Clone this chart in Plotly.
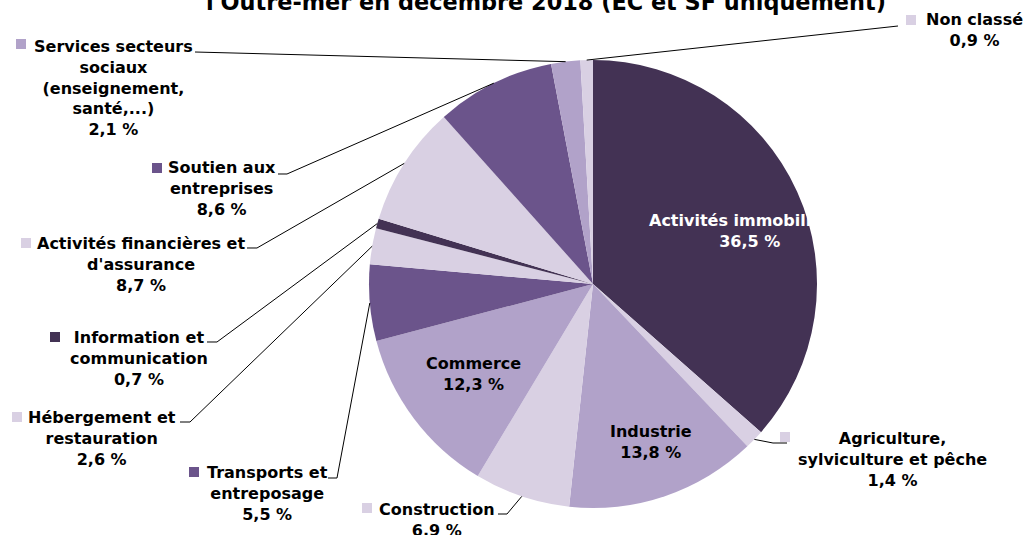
import math
import plotly.graph_objects as go

# ---------------- data ----------------
categories = [
    "Activités immobilières",
    "Agriculture,<br>sylviculture et pêche",
    "Industrie",
    "Construction",
    "Commerce",
    "Transports et<br>entreposage",
    "Hébergement et<br>restauration",
    "Information et<br>communication",
    "Activités financières et<br>d'assurance",
    "Soutien aux<br>entreprises",
    "Services secteurs<br>sociaux<br>(enseignement,<br>santé,...)",
    "Non classé",
]
values = [36.5, 1.4, 13.8, 6.9, 12.3, 5.5, 2.6, 0.7, 8.7, 8.6, 2.1, 0.9]
title_text = "l'Outre-mer en décembre 2018 (EC et SF uniquement)"

# ---------------- style ----------------
DARK = "#433254"
MID = "#6b548b"
LIGHT = "#b1a2c9"
PALE = "#d9d0e3"
colors = [DARK, PALE, LIGHT, PALE, LIGHT, MID, PALE, DARK, PALE, MID, LIGHT, PALE]

W, H = 1023, 535
CX, CY, R = 593, 284, 224
FONT = "DejaVu Sans"
FS = 16
LS = 20.8  # line spacing used to centre multi-line blocks

# label layout (pixel positions): index -> settings
inside = {
    0: dict(x=749, y=221, color="white"),
    2: dict(x=651, y=432, color="black"),
    4: dict(x=473, y=364, color="black"),
}
outside = {
    1: dict(x=892, y=439, key=(785, 437), knee=(773, 443), end=(787, 443)),
    3: dict(x=437, y=510, key=(367, 508), knee=(507, 514), end=(498, 514)),
    5: dict(x=267, y=473, key=(194, 472), knee=(337, 478), end=(328, 478)),
    6: dict(x=102, y=418, key=(17, 417), knee=(190, 422), end=(180, 422)),
    7: dict(x=139, y=338, key=(55, 337), knee=(217, 342), end=(207, 342)),
    8: dict(x=141, y=244, key=(26, 243), knee=(257, 248), end=(247, 248)),
    9: dict(x=222, y=168, key=(157, 168), knee=(287, 174), end=(278, 174)),
    10: dict(x=113, y=46, key=(21, 44), knee=None, end=(195, 52)),
    11: dict(x=974, y=20, key=(911, 20), knee=None, end=(898, 26)),
}


def px(x, y):
    return x / W, 1 - y / H


def fmt(v):
    return f"{v:.1f}".replace(".", ",") + " %"


fig = go.Figure()
fig.add_trace(go.Pie(
    labels=[c.replace("<br>", " ") for c in categories],
    values=values,
    sort=False,
    direction="clockwise",
    rotation=0,
    marker=dict(colors=colors, line=dict(width=0)),
    textinfo="none",
    hoverinfo="label+percent",
    showlegend=False,
    domain=dict(x=[(CX - R) / W, (CX + R) / W], y=[(H - CY - R) / H, (H - CY + R) / H]),
))

annotations = []
shapes = []

total = sum(values)
cum = 0.0
mid_angles = []
for v in values:
    mid_angles.append((cum + v / 2) / total * 2 * math.pi)
    cum += v

for i, cfg in inside.items():
    text = categories[i] + "<br>" + fmt(values[i])
    n = text.count("<br>") + 1
    xx, yy = px(cfg["x"], cfg["y"] + (n - 1) * LS / 2)
    annotations.append(dict(
        x=xx, y=yy, xref="paper", yref="paper", text=text, showarrow=False,
        xanchor="center", yanchor="middle", align="center",
        font=dict(family=FONT, size=FS, color=cfg["color"], weight="bold"),
    ))

for i, cfg in outside.items():
    text = categories[i] + "<br>" + fmt(values[i])
    n = text.count("<br>") + 1
    xx, yy = px(cfg["x"], cfg["y"] + (n - 1) * LS / 2)
    annotations.append(dict(
        x=xx, y=yy, xref="paper", yref="paper", text=text, showarrow=False,
        xanchor="center", yanchor="middle", align="center",
        font=dict(family=FONT, size=FS, color="black", weight="bold"),
    ))
    kx, ky = cfg["key"]
    x0, y0 = px(kx - 5, ky + 5)
    x1, y1 = px(kx + 5, ky - 5)
    shapes.append(dict(type="rect", xref="paper", yref="paper", x0=x0, y0=y0, x1=x1, y1=y1,
                       fillcolor=colors[i], line=dict(width=0)))
    a = mid_angles[i]
    sx, sy = CX + R * math.sin(a), CY - R * math.cos(a)
    pts = [(sx, sy)]
    if cfg["knee"] is not None:
        pts.append(cfg["knee"])
    pts.append(cfg["end"])
    path = "M " + " L ".join(f"{px(p[0], p[1])[0]:.5f},{px(p[0], p[1])[1]:.5f}" for p in pts)
    shapes.append(dict(type="path", xref="paper", yref="paper", path=path,
                       line=dict(color="black", width=1)))

tx, ty = px(546, 2.5)
annotations.append(dict(
    x=tx, y=ty, xref="paper", yref="paper", text=title_text, showarrow=False,
    xanchor="center", yanchor="middle",
    font=dict(family=FONT, size=22.4, color="black", weight="bold"),
))

fig.update_layout(
    width=W, height=H,
    margin=dict(l=0, r=0, t=0, b=0),
    paper_bgcolor="white", plot_bgcolor="white",
    annotations=annotations, shapes=shapes,
)

fig.write_html(
    "out.html",
    config={"displayModeBar": False},
    post_script="document.body.style.margin='0';document.body.style.overflow='hidden';",
)
